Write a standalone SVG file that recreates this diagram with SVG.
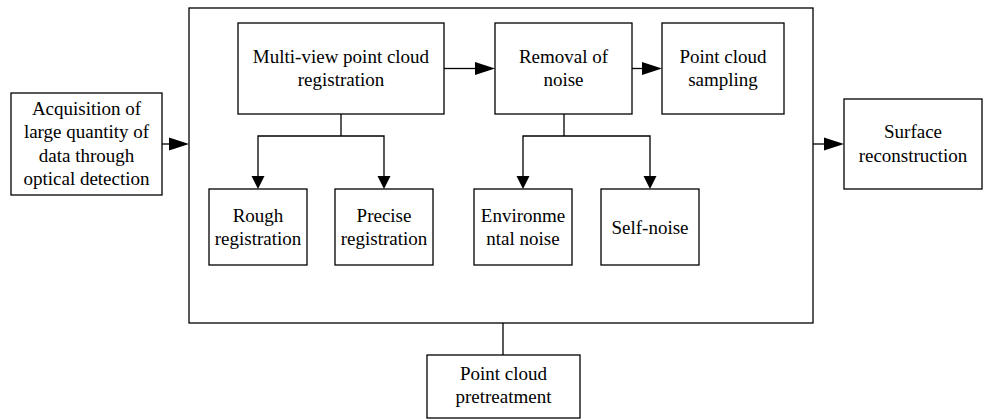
<svg xmlns="http://www.w3.org/2000/svg" width="983" height="419" viewBox="0 0 983 419">
<style>
rect{fill:#fff;stroke:#000;stroke-width:1.3}
text{font-family:'Times New Roman','Liberation Serif',serif;font-size:19px;fill:#000;text-anchor:middle}
.c line,.c polyline{stroke:#000;stroke-width:1.3;fill:none}
.c polygon{fill:#000;stroke:none}
</style>
<rect x="0" y="0" width="983" height="419" style="stroke:none"/>
<g id="container"><rect x="189" y="8" width="624" height="315"/></g>
<g id="acq"><rect x="11" y="93" width="151" height="102"/>
<text x="86.5" y="115">Acquisition of</text><text x="86.5" y="138">large quantity of</text><text x="86.5" y="162">data through</text><text x="86.5" y="185">optical detection</text></g>
<g id="multi"><rect x="238" y="23" width="206" height="91"/>
<text x="341" y="63">Multi-view point cloud</text><text x="341" y="86">registration</text></g>
<g id="removal"><rect x="495" y="23" width="137" height="91"/>
<text x="563.5" y="63">Removal of</text><text x="563.5" y="86">noise</text></g>
<g id="sampling"><rect x="662" y="23" width="122" height="91"/>
<text x="723" y="63">Point cloud</text><text x="723" y="86">sampling</text></g>
<g id="surface"><rect x="844" y="99" width="138" height="90"/>
<text x="913" y="138">Surface</text><text x="913" y="162">reconstruction</text></g>
<g id="rough"><rect x="209" y="189" width="98" height="76"/>
<text x="258" y="222">Rough</text><text x="258" y="245">registration</text></g>
<g id="precise"><rect x="335" y="189" width="98" height="76"/>
<text x="384" y="222">Precise</text><text x="384" y="245">registration</text></g>
<g id="env"><rect x="474" y="189" width="98" height="76"/>
<text x="523" y="222">Environme</text><text x="523" y="245">ntal noise</text></g>
<g id="self"><rect x="601" y="189" width="98" height="76"/>
<text x="650" y="234">Self-noise</text></g>
<g id="pretreat"><rect x="427" y="355" width="153" height="63"/>
<text x="503.5" y="380">Point cloud</text><text x="503.5" y="403">pretreatment</text></g>
<g class="c" id="connectors">
<line x1="162" y1="144" x2="170" y2="144"/><polygon points="169,137.5 189,144 169,150.5"/>
<line x1="444" y1="68.5" x2="476" y2="68.5"/><polygon points="475,62 495,68.5 475,75"/>
<line x1="632" y1="68.5" x2="643" y2="68.5"/><polygon points="642,62 662,68.5 642,75"/>
<line x1="813" y1="144" x2="825" y2="144"/><polygon points="824,137.5 844,144 824,150.5"/>
<polyline points="341,114 341,136"/><polyline points="258,177 258,136 384,136 384,177"/>
<polygon points="251.5,176 264.5,176 258,189"/><polygon points="377.5,176 390.5,176 384,189"/>
<polyline points="564,114 564,136"/><polyline points="523,177 523,136 650,136 650,177"/>
<polygon points="516.5,176 529.5,176 523,189"/><polygon points="643.5,176 656.5,176 650,189"/>
<line x1="503" y1="323" x2="503" y2="355"/>
</g>
</svg>
